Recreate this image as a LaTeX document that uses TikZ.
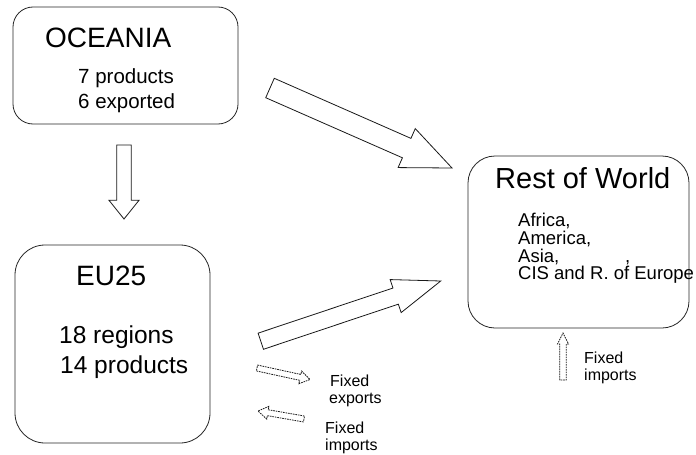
\documentclass[tikz,border=0pt]{standalone}
\usepackage{fontspec}
\setmainfont{Liberation Sans}
\usetikzlibrary{calc}
\newcommand\fs[1]{\fontsize{#1}{#1}\selectfont}
% #1 style, #2 tail coordinate, #3 tip coordinate, #4 half shaft, #5 half head, #6 head length
\newcommand\barw[6]{%
  \path ($(#3)!#6!(#2)$) coordinate (bN);
  \draw[#1] ($(#2)!#4!90:(#3)$) -- ($(bN)!#4!90:(#3)$) -- ($(bN)!#5!90:(#3)$) -- (#3)
    -- ($(bN)!#5!-90:(#3)$) -- ($(bN)!#4!-90:(#3)$) -- ($(#2)!#4!-90:(#3)$) -- cycle;}
\begin{document}
\begin{tikzpicture}[x=1pt,y=-1pt,
  box/.style={draw=black!85, line width=0.8pt, inner sep=0pt, outer sep=0pt},
  bigarr/.style={draw=black!90, line width=0.8pt, fill=white, line join=miter},
  fixarr/.style={draw=black!90, line width=0.8pt, fill=white, dash pattern=on 1.6pt off 0.9pt},
  txt/.style={anchor=base west, inner sep=0pt}]
\useasboundingbox (0,0) rectangle (696,455);
\fill[white] (0,0) rectangle (696,455);

% boxes
\node[box, rounded corners=20pt, minimum width=225pt, minimum height=117pt] (oce) at (125.5,65.5) {};
\node[box, rounded corners=30pt, minimum width=195pt, minimum height=198pt] (eu) at (112.5,344) {};
\node[box, rounded corners=27pt, minimum width=221pt, minimum height=172pt] (row) at (578.5,242) {};

% texts
\node[txt] (toce) at (45,47) {\fs{28}OCEANIA};
\node[txt] (t7) at (78,83) {\fs{20.5}7 products};
\node[txt] (t6) at (78,108) {\fs{20.5}6 exported};

\node[txt] (teu) at (76,285) {\fs{28}EU25};
\node[txt] (t18) at (59,343) {\fs{24.5}18 regions};
\node[txt] (t14) at (60,373) {\fs{24.5}14 products};

\node[txt] (trow) at (495,188) {\fs{29}Rest of World};
\node[txt] (taf) at (518,226) {\fs{18.5}Africa,};
\node[txt] (tam) at (518,244) {\fs{18.5}America,};
\node[txt] (tas) at (518,262) {\fs{18.5}Asia,};
\node[txt] (tcm) at (625,262) {\fs{18.5},};
\node[txt] (tcis) at (518,279) {\fs{18.5}CIS and R. of Europe};

\node[txt] (fe1) at (330,386.5) {\fs{16}Fixed};
\node[txt] (fe2) at (329,403) {\fs{16}exports};
\node[txt] (fi1) at (325,433) {\fs{16}Fixed};
\node[txt] (fi2) at (325,450) {\fs{16}imports};
\node[txt] (ri1) at (584,363.5) {\fs{16}Fixed};
\node[txt] (ri2) at (584,380.5) {\fs{16}imports};

% block arrows
\coordinate (a1t) at (270,88);   \coordinate (a1h) at (452,168);
\coordinate (a2t) at (124,145);  \coordinate (a2h) at (124,219);
\coordinate (a3t) at (260.8,341.2); \coordinate (a3h) at (440.7,281);
\coordinate (a4t) at (257,368);  \coordinate (a4h) at (310,379.5);
\coordinate (a5t) at (304,419);  \coordinate (a5h) at (258,411);
\coordinate (a6t) at (563,380);  \coordinate (a6h) at (563,333);

\barw{bigarr}{a1t}{a1h}{10.6pt}{21.3pt}{49.5pt}
\barw{bigarr}{a2t}{a2h}{7.3pt}{15pt}{18.7pt}
\barw{bigarr}{a3t}{a3h}{8.5pt}{17.4pt}{47.5pt}
\barw{fixarr}{a4t}{a4h}{3pt}{6.5pt}{10pt}
\barw{fixarr}{a5t}{a5h}{3pt}{6.5pt}{10pt}
\barw{fixarr}{a6t}{a6h}{3.3pt}{5.5pt}{11pt}
\end{tikzpicture}
\end{document}
